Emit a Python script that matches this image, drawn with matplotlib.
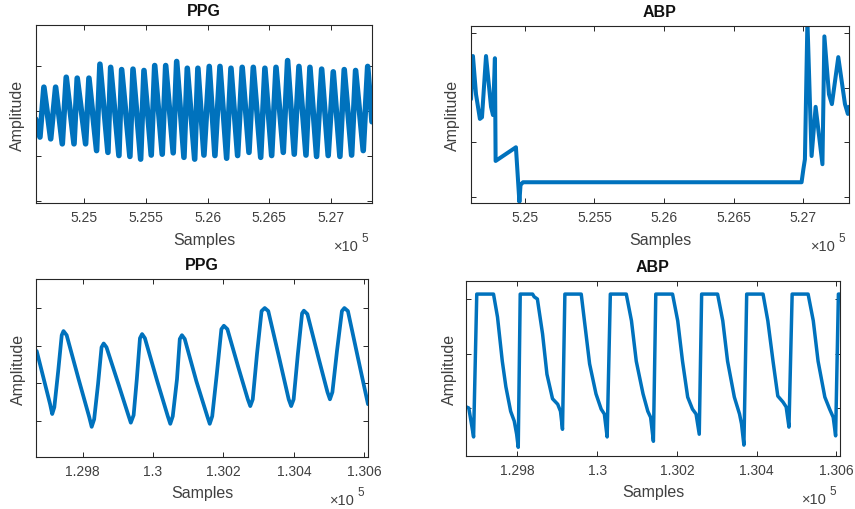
import matplotlib
matplotlib.use("Agg")
import matplotlib.pyplot as plt

plt.rcParams['font.family'] = ['Liberation Sans', 'DejaVu Sans']

# ---------------- data (sample index, arbitrary amplitude) ----------------
# Top-left PPG (peaks / troughs, in time order)
ppg1_x = [524606, 524641, 524673, 524728, 524768, 524822, 524854, 524917, 524943, 525011,
          525038, 525100, 525127, 525192, 525214, 525281, 525303, 525370, 525395, 525457,
          525484, 525543, 525571, 525632, 525660, 525721, 525749, 525808, 525835, 525895,
          525921, 525970, 526013, 526059, 526100, 526154, 526189, 526243, 526280, 526335,
          526370, 526430, 526464, 526519, 526554, 526613, 526648, 526702, 526740, 526797,
          526829, 526883, 526924, 526977, 527018, 527072, 527107, 527167, 527199, 527261,
          527297, 527332]
ppg1_y = [1.82, 1.42, 2.53, 1.38, 2.53, 1.27, 2.75, 1.27, 2.73, 1.27,
          2.73, 1.12, 3.04, 1.08, 2.97, 1.01, 2.92, 0.99, 2.93, 0.93,
          2.90, 1.02, 3.01, 1.04, 3.01, 1.07, 3.10, 0.97, 2.95, 0.93,
          2.95, 1.02, 2.99, 1.01, 2.99, 0.95, 2.95, 1.01, 2.97, 1.08,
          2.97, 0.97, 2.95, 1.01, 2.97, 1.08, 3.12, 1.04, 2.99, 1.02,
          2.97, 0.99, 2.93, 1.01, 2.87, 0.99, 2.92, 1.02, 2.90, 1.12,
          2.99, 1.76]

# Top-right ABP
abp1_x = [524612, 524626, 524648, 524676, 524691, 524720, 524756, 524770, 524784, 524789,
          524935, 524960, 524968, 524986, 526989, 527002, 527013, 527031, 527061, 527090,
          527139, 527153, 527186, 527207, 527253, 527301, 527322, 527330]
abp1_y = [1.79, 2.58, 1.88, 1.43, 1.46, 2.58, 1.65, 1.50, 2.54, 0.66,
          0.91, -0.09, 0.22, 0.27, 0.27, 0.51, 0.69, 3.22, 0.75, 1.65,
          0.60, 2.94, 1.88, 1.70, 2.56, 1.70, 1.52, 1.65]

# Bottom-left PPG
ppg2_x = [129670, 129708, 129714, 129720, 129731, 129741, 129746, 129755, 129789,
          129819, 129826, 129833, 129844, 129854, 129860, 129868, 129902,
          129930, 129937, 129945, 129954, 129963, 129969, 129977, 130012,
          130042, 130049, 130056, 130068, 130076, 130082, 130090, 130123,
          130154, 130161, 130168, 130181, 130194, 130201, 130211, 130242,
          130269, 130276, 130283, 130295, 130308, 130317, 130327, 130359,
          130385, 130392, 130399, 130411, 130423, 130428, 130438, 130469,
          130495, 130502, 130509, 130522, 130536, 130543, 130553, 130581, 130610]
ppg2_y = [1.86, 0.45, 0.19, 0.37, 1.33, 2.28, 2.39, 2.28, 1.11,
          0.11, -0.15, 0.05, 0.98, 1.96, 2.06, 1.96, 0.98,
          0.16, -0.04, 0.16, 1.11, 2.20, 2.31, 2.20, 1.06,
          0.13, -0.07, 0.13, 1.11, 2.18, 2.28, 2.18, 1.06,
          0.13, -0.07, 0.13, 1.25, 2.44, 2.53, 2.44, 1.43,
          0.58, 0.40, 0.58, 1.78, 2.92, 3.00, 2.92, 1.64,
          0.58, 0.40, 0.58, 1.78, 2.86, 2.93, 2.84, 1.70,
          0.77, 0.58, 0.77, 1.86, 2.92, 3.00, 2.92, 1.70, 0.45]

# Bottom-right ABP
abp2_x = [129672, 129678, 129686, 129690, 129698, 129740, 129750, 129762, 129771, 129783,
          129792, 129798, 129802,
          129807, 129838, 129842, 129850, 129863, 129874, 129888, 129901, 129908, 129913,
          129919, 129960, 129968, 129981, 129997, 130010, 130018, 130025,
          130033, 130073, 130086, 130098, 130115, 130127, 130134, 130141,
          130147, 130189, 130202, 130214, 130227, 130239, 130248, 130256,
          130262, 130302, 130315, 130327, 130344, 130357, 130362, 130368,
          130375, 130416, 130428, 130441, 130453, 130466, 130474, 130481,
          130489, 130529, 130542, 130554, 130571, 130583, 130592, 130598,
          130605, 130613]
abp2_y = [0.02, 0.00, -0.35, -0.53, 2.09, 2.09, 1.67, 0.86, 0.39, -0.06,
          -0.24, -0.48, -0.72,
          2.09, 2.09, 2.04, 2.00, 1.36, 0.62, 0.17, 0.07, -0.06, -0.39,
          2.09, 2.09, 1.60, 0.81, 0.26, -0.02, -0.11, -0.53,
          2.09, 2.09, 1.60, 0.86, 0.26, -0.06, -0.17, -0.61,
          2.09, 2.09, 1.60, 0.86, 0.20, -0.02, -0.11, -0.48,
          2.09, 2.09, 1.60, 0.86, 0.20, -0.11, -0.29, -0.68,
          2.09, 2.09, 1.60, 0.86, 0.22, 0.11, 0.02, -0.35,
          2.09, 2.09, 1.60, 0.86, 0.20, -0.02, -0.17, -0.51,
          2.09, 2.09]

top_xticks = [525000, 525500, 526000, 526500, 527000]
top_xlabels = ["5.25", "5.255", "5.26", "5.265", "5.27"]
bot_xticks = [129800, 130000, 130200, 130400, 130600]
bot_xlabels = ["1.298", "1.3", "1.302", "1.304", "1.306"]

titles = ["PPG", "ABP", "PPG", "ABP"]

# ---------------- figure ----------------
W, H = 855, 510
fig = plt.figure(figsize=(W / 100, H / 100), dpi=100)
fig.patch.set_facecolor('white')

LINE = '#0072BD'
AXC = '#262626'
TXT = '#404040'


def px_axes(l, t, r, b):
    return fig.add_axes([l / W, (H - b) / H, (r - l) / W, (b - t) / H])


panels = [
    dict(box=(36, 26, 372, 204), x=ppg1_x, y=ppg1_y, xlim=(524609, 527332), ylim=(-0.044, 3.91),
         yt=[0, 1, 2, 3], xt=top_xticks, xl=top_xlabels, lw=4.0, ylab=-0.054),
    dict(box=(471, 27, 849, 204), x=abp1_x, y=abp1_y, xlim=(524612, 527330), ylim=(-0.11, 3.13),
         yt=[0, 1, 2, 3], xt=top_xticks, xl=top_xlabels, lw=2.9, ylab=-0.048),
    dict(box=(36, 280, 368, 458), x=ppg2_x, y=ppg2_y, xlim=(129668, 130610), ylim=(-0.95, 3.77),
         yt=[0, 1, 2, 3], xt=bot_xticks, xl=bot_xlabels, lw=2.7, ylab=-0.054),
    dict(box=(466, 282, 840, 457), x=abp2_x, y=abp2_y, xlim=(129671, 130609), ylim=(-0.88, 2.33),
         yt=[0, 1, 2], xt=bot_xticks, xl=bot_xlabels, lw=2.5, ylab=-0.045),
]

for i, p in enumerate(panels):
    l, t, r, b = p['box']
    ax = px_axes(l, t, r, b)
    ax.plot(p['x'], p['y'], color=LINE, lw=p['lw'], solid_joinstyle='round',
            solid_capstyle='round')
    ax.set_xlim(*p['xlim'])
    ax.set_ylim(*p['ylim'])
    ax.set_xticks(p['xt'])
    ax.set_xticklabels(p['xl'])
    ax.set_yticks(p['yt'])
    ax.set_yticklabels([])
    ax.tick_params(direction='in', length=3.5, width=0.7, color=AXC,
                   top=True, right=True, labelsize=10, labelcolor=TXT, pad=5)
    for s in ax.spines.values():
        s.set_color(AXC)
        s.set_linewidth(0.8)
    ax.set_title(titles[i], fontsize=11.5, fontweight='bold', color='#111111', pad=7)
    ax.set_xlabel("Samples", fontsize=11.5, color=TXT)
    ax.xaxis.label.set_va('center')
    ax.xaxis.set_label_coords(0.5, -36 / (b - t))
    ax.set_ylabel("Amplitude", fontsize=11.5, color=TXT)
    ax.yaxis.label.set_va('center')
    ax.yaxis.set_label_coords(p['ylab'], 0.5)
    # x10^5 exponent label
    ax.text(1.0 - 13 / (r - l), -43 / (b - t), "×10", transform=ax.transAxes,
            ha='right', va='center', fontsize=10.5, color=TXT)
    ax.text(1.0 - 4 / (r - l), -35 / (b - t), "5", transform=ax.transAxes,
            ha='right', va='center', fontsize=8.5, color=TXT)

fig.savefig("out.png", dpi=100, facecolor='white')
